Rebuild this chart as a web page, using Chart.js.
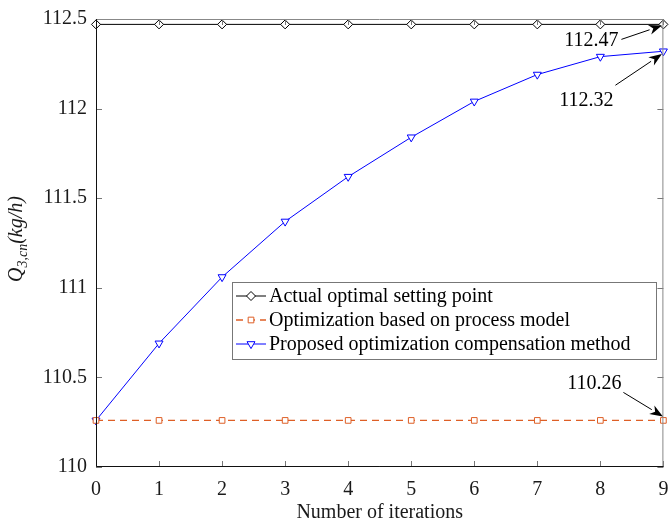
<!DOCTYPE html>
<html>
<head>
<meta charset="utf-8">
<script src="https://cdn.jsdelivr.net/npm/chart.js@4.4.0/dist/chart.umd.min.js"></script>
<style>
  html, body { margin: 0; padding: 0; background: #fff; }
  canvas { display: block; }
</style>
</head>
<body>
<canvas id="chart" width="669" height="523"></canvas>
<script>
// data
const iterations = ['0', '1', '2', '3', '4', '5', '6', '7', '8', '9'];
const actualOptimal = [112.47, 112.47, 112.47, 112.47, 112.47, 112.47, 112.47, 112.47, 112.47, 112.47];
const processModel = [110.26, 110.26, 110.26, 110.26, 110.26, 110.26, 110.26, 110.26, 110.26, 110.26];
const proposedMethod = [110.26, 110.69, 111.06, 111.37, 111.62, 111.84, 112.04, 112.19, 112.29, 112.32];
const seriesNames = ['Actual optimal setting point', 'Optimization based on process model', 'Proposed optimization compensation method'];
const yMin = 110, yMax = 112.5, yStep = 0.5;

const serif = '"Liberation Serif", "Times New Roman", serif';
const textColor = '#1a1a1a';

// end-of-series callouts: dataset index, offsets from the last point
const callouts = [
    { ds: 0, tail: [-42, 15], tip: [-1.5, 1.2], text: [-45, 22] },
    { ds: 2, tail: [-48, 34], tip: [-1.5, 2.8], text: [-50, 55] },
    { ds: 1, tail: [-40, -28], tip: [-0.5, -4], text: [-42, -31] }
];

function arrow(ctx, x0, y0, x1, y1) {
    let a = Math.atan2(y1 - y0, x1 - x0);
    let len = 13, hw = 5;
    let bx = x1 - Math.cos(a) * len, by = y1 - Math.sin(a) * len;
    ctx.strokeStyle = '#000';
    ctx.fillStyle = '#000';
    ctx.lineWidth = 1;
    ctx.beginPath();
    ctx.moveTo(x0, y0);
    ctx.lineTo(bx, by);
    ctx.stroke();
    ctx.beginPath();
    ctx.moveTo(x1, y1);
    ctx.lineTo(bx - Math.sin(a) * hw, by + Math.cos(a) * hw);
    ctx.lineTo(x1 - Math.cos(a) * len * 0.7, y1 - Math.sin(a) * len * 0.7);
    ctx.lineTo(bx + Math.sin(a) * hw, by - Math.cos(a) * hw);
    ctx.closePath();
    ctx.fill();
}

function marker(ctx, ds, x, y) {
    ctx.save();
    ctx.strokeStyle = ds.pointBorderColor;
    ctx.fillStyle = '#fff';
    ctx.lineWidth = 1;
    ctx.setLineDash([]);
    if (Chart.helpers && Chart.helpers.drawPoint) {
        Chart.helpers.drawPoint(ctx, { pointStyle: ds.pointStyle, radius: ds.pointRadius, rotation: ds.pointRotation || 0, borderWidth: 1 }, x, y);
    }
    ctx.restore();
}

const boxPlugin = {
    id: 'matlabBox',
    afterDatasetsDraw(chart) {
        const { ctx, chartArea: a, scales: { x, y } } = chart;
        ctx.save();
        // inward ticks
        ctx.strokeStyle = '#777';
        ctx.lineWidth = 1;
        ctx.beginPath();
        iterations.forEach((_, i) => {
            let px = Math.round(x.getPixelForValue(i)) + 0.5;
            ctx.moveTo(px, a.bottom); ctx.lineTo(px, a.bottom - 6);
            ctx.moveTo(px, a.top); ctx.lineTo(px, a.top + 6);
        });
        for (let v = yMin; v <= yMax + 1e-9; v += yStep) {
            let py = Math.round(y.getPixelForValue(v)) + 0.5;
            ctx.moveTo(a.left, py); ctx.lineTo(a.left + 6, py);
            ctx.moveTo(a.right, py); ctx.lineTo(a.right - 6, py);
        }
        ctx.stroke();
        // box
        ctx.strokeStyle = '#888';
        ctx.beginPath();
        ctx.moveTo(a.left, a.top + 0.5); ctx.lineTo(a.right - 0.5, a.top + 0.5); ctx.lineTo(a.right - 0.5, a.bottom);
        ctx.stroke();
        ctx.strokeStyle = '#111';
        ctx.beginPath();
        ctx.moveTo(a.left + 0.5, a.top); ctx.lineTo(a.left + 0.5, a.bottom - 0.5); ctx.lineTo(a.right, a.bottom - 0.5);
        ctx.stroke();

        // legend
        let lx = 232, ly = 282, lw = 424, lh = 77;
        ctx.fillStyle = '#fff';
        ctx.fillRect(lx, ly, lw, lh);
        ctx.strokeStyle = '#777';
        ctx.strokeRect(lx + 0.5, ly + 0.5, lw, lh);
        ctx.font = '20px ' + serif;
        ctx.textBaseline = 'middle';
        ctx.textAlign = 'left';
        chart.data.datasets.forEach((ds, i) => {
            let ry = ly + 14 + i * 24;
            ctx.strokeStyle = ds.borderColor;
            ctx.lineWidth = ds.borderWidth;
            ctx.setLineDash(ds.borderDash || []);
            ctx.beginPath();
            ctx.moveTo(lx + 4, ry); ctx.lineTo(lx + 34, ry);
            ctx.stroke();
            ctx.setLineDash([]);
            marker(ctx, ds, lx + 19, ry);
            ctx.fillStyle = '#000';
            ctx.fillText(ds.label, lx + 37, ry + 1);
        });
        ctx.restore();
    },
    afterDraw(chart) {
        const { ctx, scales: { x, y } } = chart;
        ctx.save();
        // callouts
        ctx.font = '20px ' + serif;
        ctx.textAlign = 'right';
        ctx.textBaseline = 'alphabetic';
        callouts.forEach(c => {
            let vals = chart.data.datasets[c.ds].data;
            let last = vals.length - 1;
            let px = x.getPixelForValue(last), py = y.getPixelForValue(vals[last]);
            arrow(ctx, px + c.tail[0], py + c.tail[1], px + c.tip[0], py + c.tip[1]);
            ctx.fillStyle = '#000';
            ctx.fillText(vals[last].toFixed(2), px + c.text[0], py + c.text[1]);
        });
        // y title with subscript
        let parts = [
            { t: 'Q', f: 'italic 20px ' + serif, dy: 0 },
            { t: '3,cn', f: 'italic 14px ' + serif, dy: 5 },
            { t: '(kg/h)', f: 'italic 20px ' + serif, dy: 0 }
        ];
        let total = 0;
        parts.forEach(p => { ctx.font = p.f; p.w = ctx.measureText(p.t).width; total += p.w; });
        let cy = (chart.chartArea.top + chart.chartArea.bottom) / 2 - 4;
        ctx.translate(22, cy);
        ctx.rotate(-Math.PI / 2);
        ctx.textAlign = 'left';
        ctx.fillStyle = textColor;
        let cx = -total / 2;
        parts.forEach(p => {
            ctx.font = p.f;
            ctx.fillText(p.t, cx, p.dy);
            cx += p.w;
        });
        ctx.restore();
    }
};

new Chart(document.getElementById('chart'), {
    type: 'line',
    data: {
        labels: iterations,
        datasets: [
            {
                label: seriesNames[0],
                data: actualOptimal,
                borderColor: '#000',
                borderWidth: 1,
                pointStyle: 'rectRot',
                pointRadius: 4.5,
                pointBorderColor: '#000',
                pointBackgroundColor: '#fff',
                pointBorderWidth: 1,
                clip: false
            },
            {
                label: seriesNames[1],
                data: processModel,
                borderColor: '#DE5F26',
                borderWidth: 1.4,
                borderDash: [7, 5],
                pointStyle: 'rect',
                pointRadius: 4,
                pointBorderColor: '#DE5F26',
                pointBackgroundColor: '#fff',
                pointBorderWidth: 1,
                clip: false
            },
            {
                label: seriesNames[2],
                data: proposedMethod,
                borderColor: '#0000FF',
                borderWidth: 1,
                pointStyle: 'triangle',
                pointRotation: 180,
                pointRadius: 4.6,
                pointBorderColor: '#0000FF',
                pointBackgroundColor: '#fff',
                pointBorderWidth: 1,
                clip: false
            }
        ]
    },
    options: {
        responsive: false,
        animation: false,
        layout: { padding: { left: 0, right: 2, top: 19, bottom: 0 } },
        plugins: {
            legend: { display: false },
            tooltip: { enabled: false }
        },
        scales: {
            x: {
                type: 'category',
                offset: false,
                grid: { display: false, drawTicks: false },
                border: { display: false },
                ticks: { color: textColor, font: { family: serif, size: 20 }, padding: 11, maxRotation: 0, autoSkip: false },
                title: { display: true, text: 'Number of iterations', color: textColor, font: { family: serif, size: 20, lineHeight: 1 }, padding: { top: 0, bottom: 0 } },
                afterFit: s => { s.height = 56; s.paddingLeft = 0; s.paddingRight = 0; }
            },
            y: {
                min: yMin,
                max: yMax,
                grid: { display: false, drawTicks: false },
                border: { display: false },
                ticks: { stepSize: yStep, color: textColor, font: { family: serif, size: 20 }, padding: 9, callback: v => String(+v) },
                afterFit: s => { s.width = 96; s.paddingTop = 0; s.paddingBottom = 0; }
            }
        }
    },
    plugins: [boxPlugin]
});
</script>
</body>
</html>
